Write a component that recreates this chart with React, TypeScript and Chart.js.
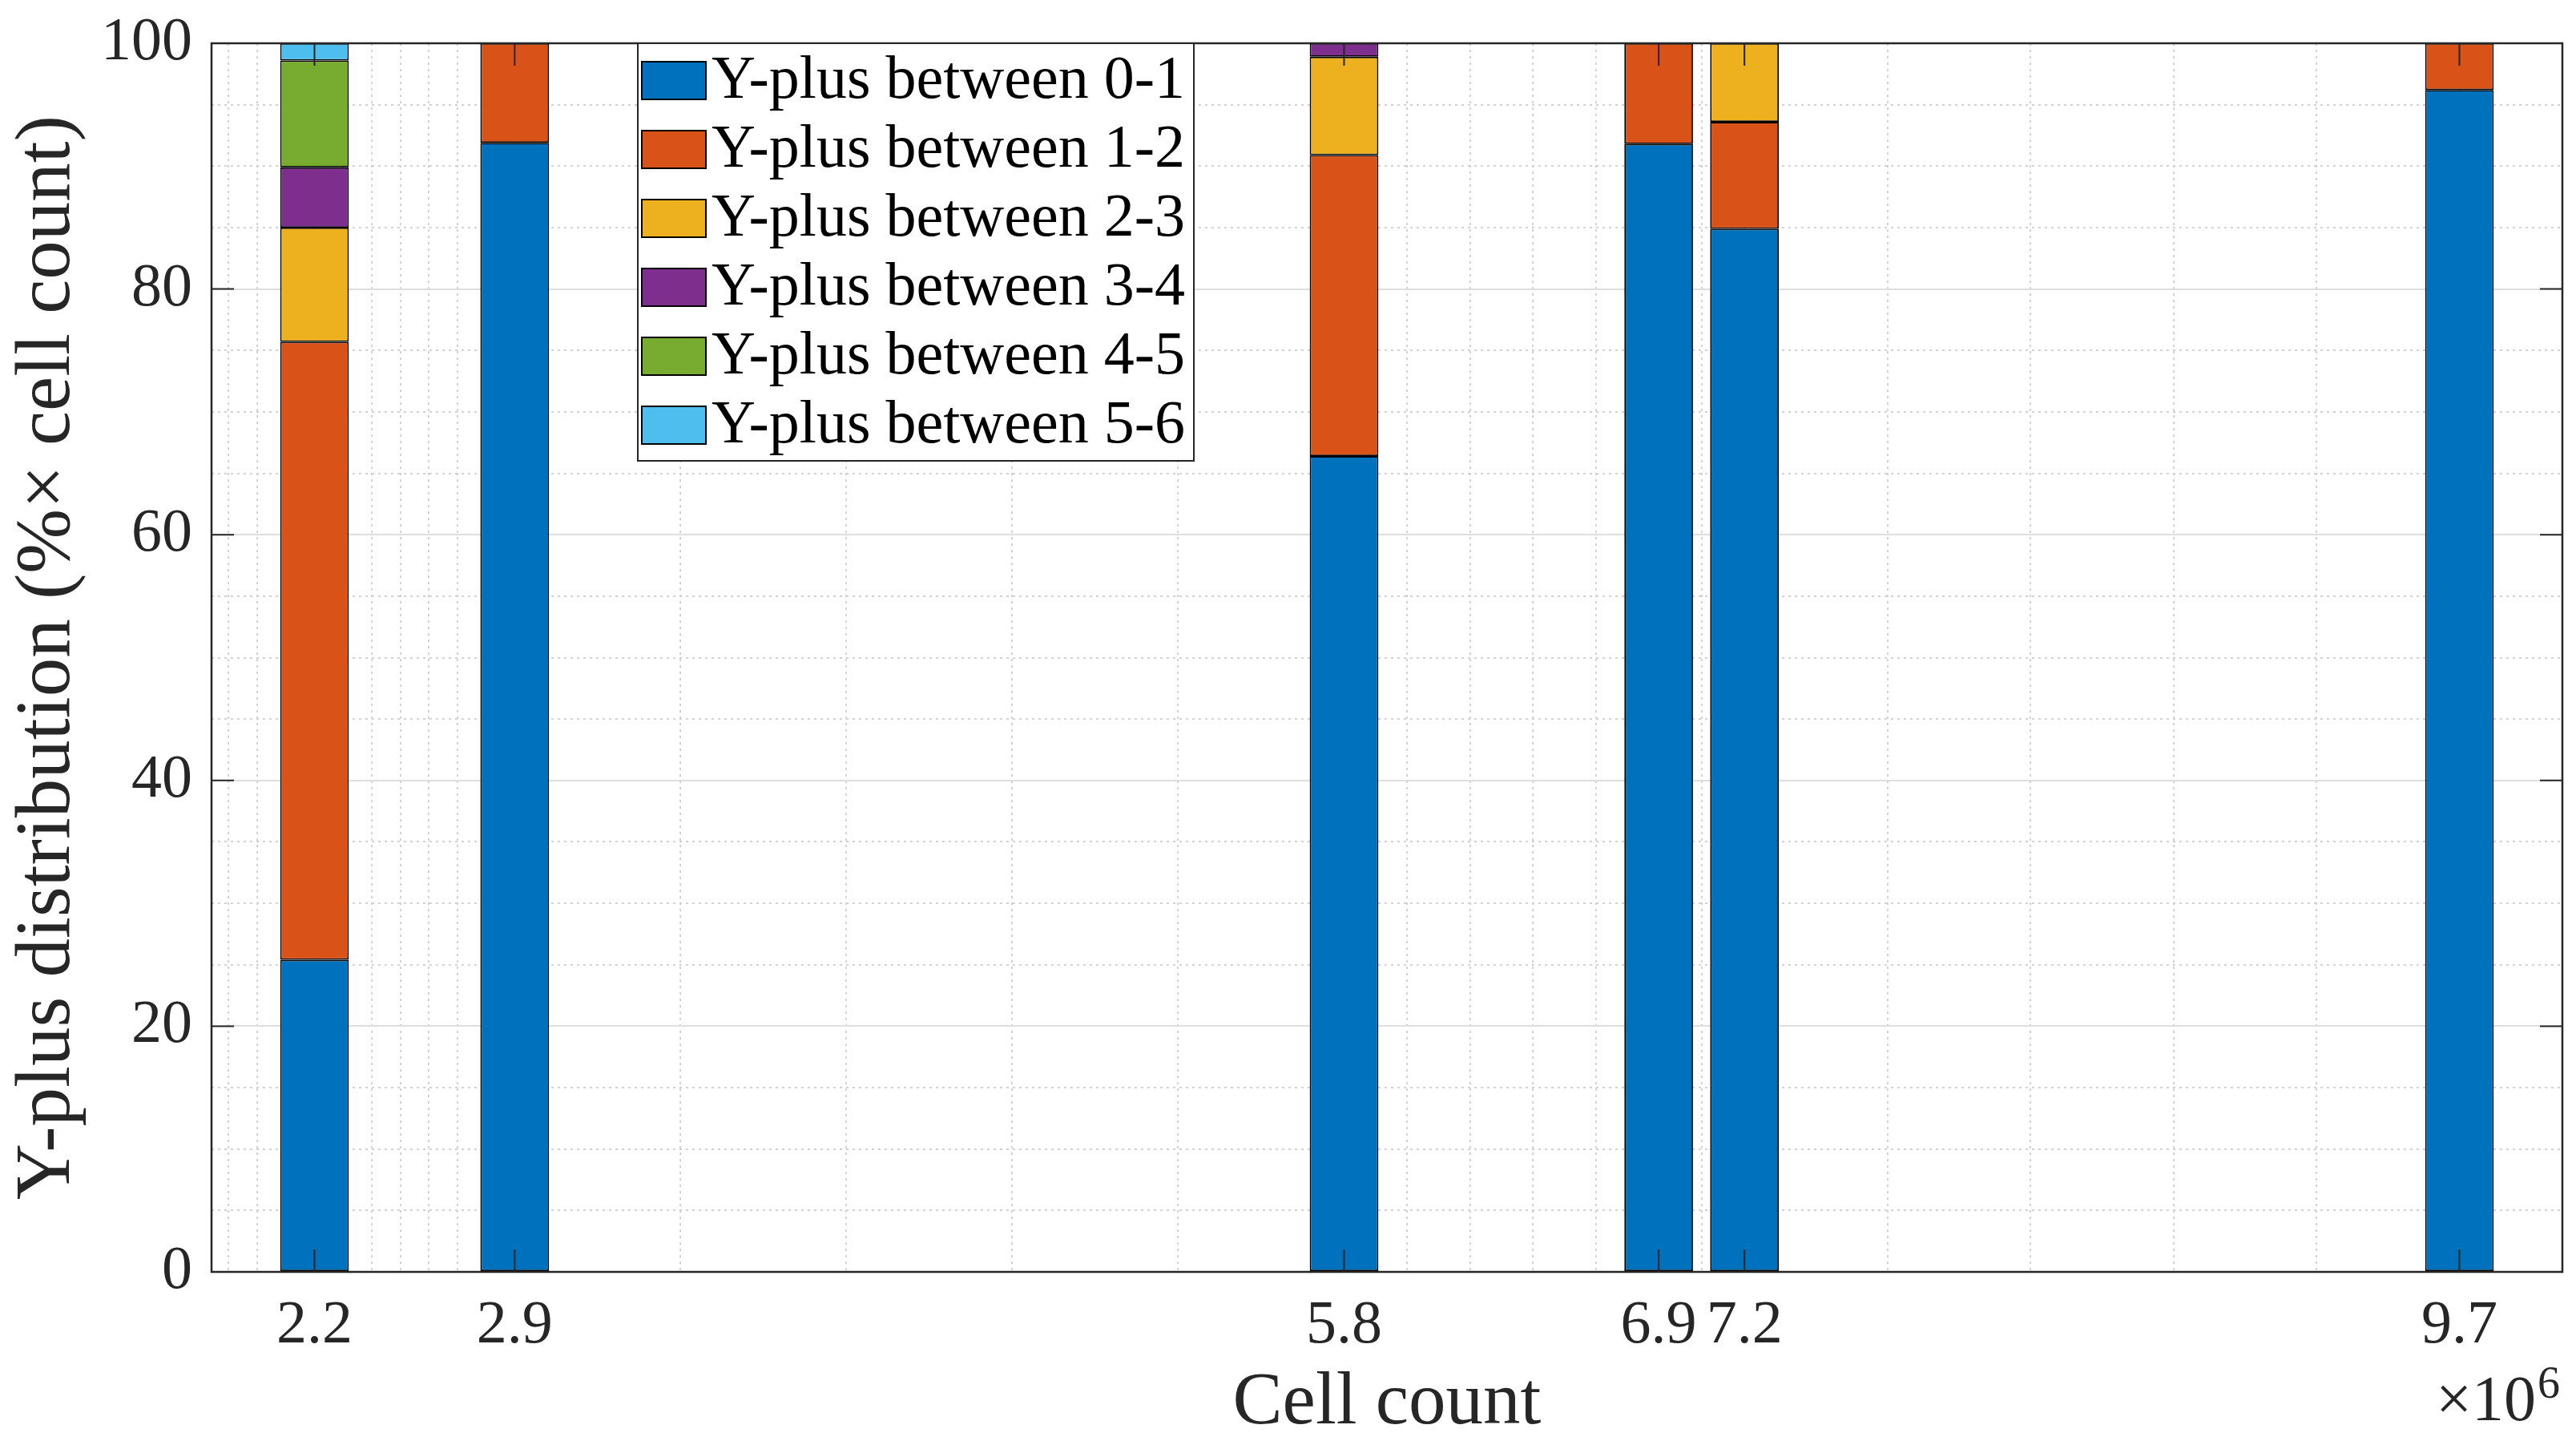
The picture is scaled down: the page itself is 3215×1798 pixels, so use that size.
import { useEffect, useRef } from 'react';
import { Chart, registerables } from 'chart.js';

Chart.register(...registerables);

// cell count in millions (×10^6)
const cellCounts = [2.2, 2.9, 5.8, 6.9, 7.2, 9.7];
const cellCountLabels = ['2.2', '2.9', '5.8', '6.9', '7.2', '9.7'];

// share of cells (%) per y-plus band, one value per mesh
const yPlus01 = [25.4, 91.9, 66.4, 91.8, 84.9, 96.2];
const yPlus12 = [50.3, 8.1, 24.5, 8.2, 8.7, 3.8];
const yPlus23 = [9.3, null, 8.0, null, 6.4, null];
const yPlus34 = [4.9, null, 1.1, null, null, null];
const yPlus45 = [8.7, null, null, null, null, null];
const yPlus56 = [1.4, null, null, null, null, null];

const seriesNames = [
  'Y-plus between 0-1',
  'Y-plus between 1-2',
  'Y-plus between 2-3',
  'Y-plus between 3-4',
  'Y-plus between 4-5',
  'Y-plus between 5-6',
];
const seriesColors = ['#0072BD', '#D95319', '#EDB120', '#7E2F8E', '#77AC30', '#4DBEEE'];

const yTickValues = [0, 20, 40, 60, 80, 100];
const yMinorTicks = [5, 10, 15, 25, 30, 35, 45, 50, 55, 65, 70, 75, 85, 90, 95];
const xMinorTicks = [
  1.9, 2.0, 2.1, 2.3, 2.4, 2.5, 2.6, 2.7, 2.8, 3.48, 4.06, 4.64, 5.22, 6.02, 6.24,
  6.46, 6.68, 6.95, 7.0, 7.05, 7.1, 7.15, 7.7, 8.2, 8.7, 9.2,
];

const SERIF = '"Liberation Serif", "DejaVu Serif", serif';
const AXIS_COLOR = '#262626';
const MAJOR_GRID = '#dedede';
const MINOR_GRID = '#d2d2d2';
const TICK_LEN = 28;

const noEdgePadding = (s: any) => {
  s.paddingTop = 0;
  s.paddingBottom = 0;
  s.paddingLeft = 0;
  s.paddingRight = 0;
};

const matlabAxes = {
  id: 'matlabAxes',
  afterDatasetsDraw(chart: any) {
    const { ctx, chartArea: a, scales } = chart;
    const x = scales.x;
    const y = scales.y;
    ctx.save();
    // inward tick marks on all four sides
    ctx.strokeStyle = AXIS_COLOR;
    ctx.lineWidth = 2;
    ctx.beginPath();
    cellCounts.forEach((v) => {
      const px = x.getPixelForValue(v);
      ctx.moveTo(px, a.bottom);
      ctx.lineTo(px, a.bottom - TICK_LEN);
      ctx.moveTo(px, a.top);
      ctx.lineTo(px, a.top + TICK_LEN);
    });
    yTickValues.forEach((v) => {
      const py = y.getPixelForValue(v);
      ctx.moveTo(a.left, py);
      ctx.lineTo(a.left + TICK_LEN, py);
      ctx.moveTo(a.right, py);
      ctx.lineTo(a.right - TICK_LEN, py);
    });
    ctx.stroke();

    // box
    ctx.lineWidth = 2.5;
    ctx.strokeRect(a.left, a.top, a.right - a.left, a.bottom - a.top);

    // exponent label
    ctx.fillStyle = AXIS_COLOR;
    ctx.textAlign = 'right';
    ctx.textBaseline = 'alphabetic';
    ctx.font = `56px ${SERIF}`;
    const supW = ctx.measureText('6').width;
    ctx.fillText('6', a.right - 3, 1744);
    ctx.font = `80px ${SERIF}`;
    ctx.fillText('\u00d710', a.right - 5 - supW, 1772);
    ctx.restore();
  },
  afterDraw(chart: any) {
    const { ctx, chartArea: a } = chart;
    const left = a.left + 532;
    const top = a.top;
    const w = 694;
    const h = 521;
    ctx.save();
    ctx.fillStyle = '#ffffff';
    ctx.fillRect(left, top, w, h);
    ctx.strokeStyle = AXIS_COLOR;
    ctx.lineWidth = 2;
    ctx.strokeRect(left, top, w, h);
    ctx.font = `76px ${SERIF}`;
    ctx.textAlign = 'left';
    ctx.textBaseline = 'middle';
    chart.data.datasets.forEach((ds: any, i: number) => {
      const cy = top + 46 + i * 86;
      ctx.fillStyle = ds.backgroundColor;
      ctx.fillRect(left + 5, cy - 23, 80, 47);
      ctx.strokeStyle = '#000000';
      ctx.lineWidth = 2;
      ctx.strokeRect(left + 5, cy - 23, 80, 47);
      ctx.fillStyle = '#000000';
      ctx.fillText(ds.label, left + 92, cy + 2);
    });
    ctx.restore();
  },
};

export default function App() {
  const canvasRef = useRef<HTMLCanvasElement>(null);

  useEffect(() => {
    document.body.style.margin = '0';
    if (!canvasRef.current) return;
    let chart: Chart | null = null;
    let cancelled = false;
    const series = [yPlus01, yPlus12, yPlus23, yPlus34, yPlus45, yPlus56];

    const build = () => {
      if (cancelled || !canvasRef.current) return;
      chart = new Chart(canvasRef.current, {
        type: 'bar',
        data: {
          datasets: series.map((vals, i) => ({
            label: seriesNames[i],
            data: cellCounts.map((c, j) => ({ x: c, y: vals[j] })),
            backgroundColor: seriesColors[i],
            borderColor: '#000000',
            borderWidth: 1.8,
            borderSkipped: false,
            barPercentage: 0.8,
            categoryPercentage: 1,
          })),
        },
        options: {
          animation: false,
          responsive: true,
          maintainAspectRatio: false,
          devicePixelRatio: 1,
          layout: { padding: { top: 54, right: 17, left: 0, bottom: 0 } },
          plugins: { legend: { display: false }, tooltip: { enabled: false } },
          scales: {
            x: {
              type: 'linear',
              min: 1.84,
              max: 10.06,
              offset: false,
              stacked: true,
              afterBuildTicks: (s: any) => {
                s.ticks = cellCounts.map((v) => ({ value: v }));
              },
              afterFit: (s: any) => {
                s.height = 211;
                noEdgePadding(s);
              },
              ticks: {
                autoSkip: false,
                maxRotation: 0,
                padding: 22,
                color: AXIS_COLOR,
                font: { family: SERIF, size: 76 },
                callback: (_v: any, i: number) => cellCountLabels[i],
              },
              grid: { color: MAJOR_GRID, lineWidth: 2, drawTicks: false, offset: false },
              border: { display: false },
              title: {
                display: true,
                text: 'Cell count',
                color: AXIS_COLOR,
                font: { family: SERIF, size: 93, lineHeight: 1 },
                padding: 0,
              },
            },
            xMinor: {
              type: 'linear',
              position: 'bottom',
              min: 1.84,
              max: 10.06,
              offset: false,
              afterBuildTicks: (s: any) => {
                s.ticks = xMinorTicks.map((v) => ({ value: v }));
              },
              afterFit: (s: any) => {
                s.height = 0;
                noEdgePadding(s);
              },
              ticks: { display: false },
              grid: { color: MINOR_GRID, lineWidth: 2, drawTicks: false, offset: false },
              border: { display: false, dash: [3, 5] },
            },
            y: {
              min: 0,
              max: 100,
              stacked: true,
              afterFit: (s: any) => {
                s.width = 264;
                noEdgePadding(s);
              },
              ticks: {
                stepSize: 20,
                padding: 24,
                color: AXIS_COLOR,
                font: { family: SERIF, size: 76 },
              },
              grid: { color: MAJOR_GRID, lineWidth: 2, drawTicks: false },
              border: { display: false },
              title: {
                display: true,
                text: 'Y-plus distribution (%\u00d7 cell count)',
                color: AXIS_COLOR,
                font: { family: SERIF, size: 97, lineHeight: 1 },
                padding: { top: 12, bottom: 0 },
              },
            },
            yMinor: {
              type: 'linear',
              position: 'left',
              min: 0,
              max: 100,
              afterBuildTicks: (s: any) => {
                s.ticks = yMinorTicks.map((v) => ({ value: v }));
              },
              afterFit: (s: any) => {
                s.width = 0;
                noEdgePadding(s);
              },
              ticks: { display: false },
              grid: { color: MINOR_GRID, lineWidth: 2, drawTicks: false },
              border: { display: false, dash: [3, 5] },
            },
          },
        } as any,
        plugins: [matlabAxes],
      });
    };

    const fonts = (document as any).fonts;
    if (fonts && fonts.load) {
      Promise.all([
        fonts.load('76px "Liberation Serif"'),
        fonts.load('76px "DejaVu Serif"'),
      ])
        .catch(() => null)
        .then(build);
    } else {
      build();
    }

    return () => {
      cancelled = true;
      if (chart) chart.destroy();
    };
  }, []);

  return (
    <div style={{ width: 3215, height: 1798, position: 'relative', background: '#ffffff' }}>
      <span style={{ position: 'absolute', left: -9999, fontFamily: SERIF }}>Y-plus 0123456789</span>
      <canvas ref={canvasRef} />
    </div>
  );
}
